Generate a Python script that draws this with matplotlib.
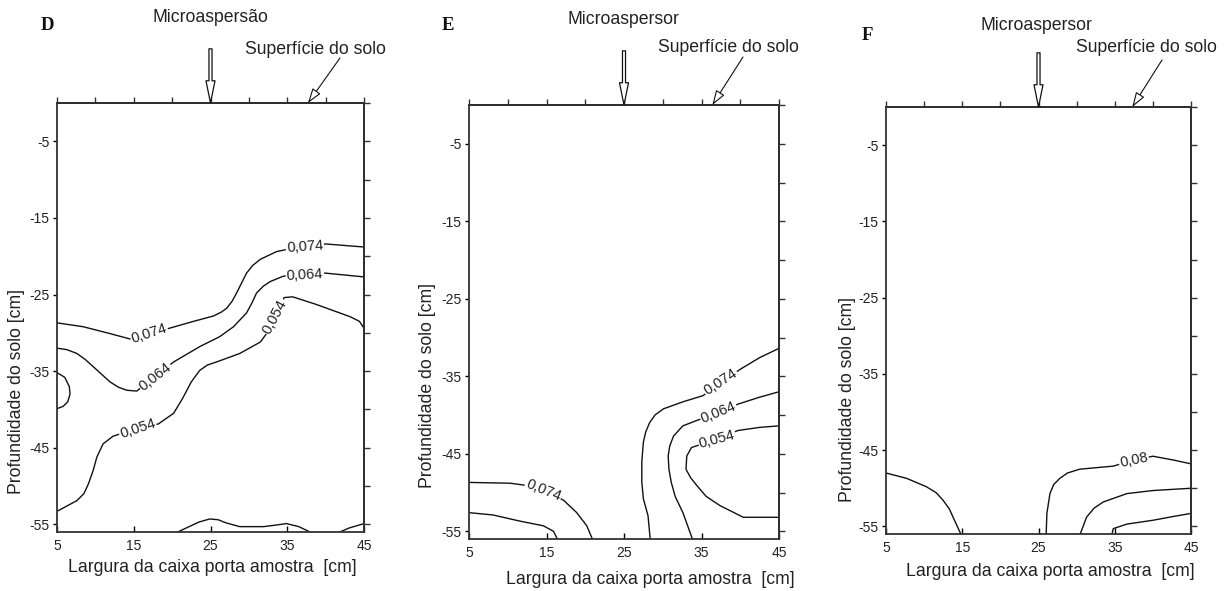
import matplotlib.pyplot as plt

plt.rcParams['font.family'] = ['Liberation Sans', 'DejaVu Sans']
plt.rcParams['axes.unicode_minus'] = False

W, H = 1230, 591

# eixos
x_ticks = [5, 15, 25, 35, 45]
y_ticks = [-5, -15, -25, -35, -45, -55]
top_ticks = [5, 10, 15, 20, 25, 30, 35, 40, 45]
right_ticks = [0, -5, -10, -15, -20, -25, -30, -35, -40, -45, -50, -55]
xlabel = 'Largura da caixa porta amostra  [cm]'
ylabel = 'Profundidade do solo [cm]'

# painel D - isolinhas
d_074_x = [5.0, 8.4, 11.9, 14.5, 17.0, 19.3, 22.8, 25.4, 26.4, 27.1, 27.8, 28.4, 29.7, 30.5, 31.5, 33.6, 35.0, 37.5, 40.0, 45.0]
d_074_y = [-28.7, -29.2, -30.1, -30.8, -30.3, -29.5, -28.5, -27.8, -27.3, -26.8, -25.9, -24.8, -22.2, -21.2, -20.4, -19.4, -19.1, -18.8, -18.4, -18.8]
d_064_x = [5.0, 6.3, 7.6, 8.7, 9.7, 11.9, 13.0, 14.1, 15.4, 17.8, 20.2, 23.6, 26.2, 28.0, 29.7, 30.4, 31.0, 31.9, 32.8, 34.5, 37.3, 39.9, 45.0]
d_064_y = [-32.0, -32.2, -32.7, -33.5, -34.4, -36.4, -37.1, -37.5, -37.6, -35.7, -33.8, -31.8, -30.5, -29.2, -27.4, -26.1, -24.8, -23.9, -23.3, -22.6, -22.4, -22.2, -22.7]
d_054_x = [5.0, 7.6, 8.5, 9.1, 9.7, 10.2, 11.0, 12.3, 13.2, 15.5, 18.2, 20.2, 21.4, 22.5, 23.6, 24.6, 25.8, 28.8, 31.5, 32.3, 33.4, 34.6, 35.7, 38.8, 43.2, 44.4, 45.0]
d_054_y = [-53.3, -51.9, -51.0, -49.7, -48.0, -46.2, -44.5, -43.5, -43.2, -42.5, -41.9, -40.5, -38.5, -36.4, -34.9, -34.2, -33.8, -32.7, -31.2, -30.1, -27.9, -25.4, -25.3, -26.3, -27.9, -28.5, -29.4]
d_bolso_x = [5.0, 6.0, 6.6, 6.7, 6.4, 5.8, 5.0]
d_bolso_y = [-35.2, -35.8, -37.0, -38.0, -39.0, -39.6, -39.9]
d_fundo1_x = [20.3, 22.0, 23.5, 24.9, 26.0, 27.0, 28.8, 31.9, 33.5, 34.9, 36.5, 38.4]
d_fundo1_y = [-56.2, -55.4, -54.7, -54.3, -54.4, -54.8, -55.3, -55.3, -55.1, -54.9, -55.3, -56.2]
d_fundo2_x = [41.4, 43.0, 45.0]
d_fundo2_y = [-56.2, -55.5, -54.9]
d_rot_x = [17.0, 37.3, 17.8, 37.3, 15.5, 33.4]
d_rot_y = [-30.1, -18.7, -35.7, -22.4, -42.5, -27.9]
d_rot_txt = ['0,074', '0,074', '0,064', '0,064', '0,054', '0,054']
d_rot_ang = [18, 4, 38, 3, 18, 62]

# painel E
e_074a_x = [5.0, 10.3, 12.5, 14.6, 17.2, 18.9, 20.2, 21.0]
e_074a_y = [-48.7, -48.8, -49.1, -49.7, -51.0, -52.6, -54.3, -56.2]
e_064a_x = [5.0, 8.1, 11.6, 14.6, 15.9, 16.5]
e_064a_y = [-52.6, -52.9, -53.7, -54.3, -55.0, -56.2]
e_074b_x = [28.4, 28.1, 27.5, 27.3, 27.3, 27.5, 27.8, 28.3, 29.0, 30.1, 32.6, 35.2, 37.5, 40.0, 42.5, 45.0]
e_074b_y = [-56.2, -53.0, -50.8, -48.7, -46.0, -43.5, -42.2, -41.0, -40.0, -39.2, -38.3, -37.5, -35.8, -34.1, -32.6, -31.4]
e_064b_x = [33.9, 32.6, 31.6, 31.1, 30.8, 30.7, 30.9, 31.4, 32.6, 34.4, 37.2, 39.7, 42.5, 45.0]
e_064b_y = [-56.2, -52.6, -50.5, -48.7, -47.0, -45.3, -44.0, -42.7, -41.4, -40.7, -39.7, -38.6, -37.7, -37.0]
e_054_x = [45.0, 40.4, 37.4, 35.6, 34.4, 33.6, 33.0, 33.1, 33.7, 37.0, 39.7, 42.5, 45.0]
e_054_y = [-53.2, -53.2, -51.7, -50.5, -49.1, -48.1, -47.0, -45.3, -44.2, -43.1, -42.0, -41.6, -41.4]
e_rot_x = [14.6, 37.5, 37.2, 37.0]
e_rot_y = [-49.7, -35.8, -39.7, -43.1]
e_rot_txt = ['0,074', '0,074', '0,064', '0,054']
e_rot_ang = [-22, 33, 22, 15]

# painel F
f_a_x = [5.0, 7.7, 10.3, 11.6, 12.5, 13.3, 13.8, 14.9]
f_a_y = [-48.0, -48.7, -49.8, -50.6, -51.6, -52.7, -53.8, -56.2]
f_08_x = [26.0, 26.1, 26.5, 27.0, 27.8, 28.8, 30.4, 34.8, 37.5, 40.0, 42.7, 45.0]
f_08_y = [-56.2, -53.3, -50.7, -49.5, -48.7, -48.0, -47.5, -47.1, -46.3, -45.8, -46.3, -46.8]
f_b_x = [30.4, 31.3, 32.3, 33.5, 36.6, 40.0, 45.0]
f_b_y = [-56.2, -53.8, -52.6, -51.8, -50.7, -50.3, -50.0]
f_c_x = [34.6, 34.8, 36.6, 40.0, 42.7, 45.0]
f_c_y = [-56.2, -55.3, -54.7, -54.2, -53.7, -53.3]
f_rot_x = [37.5]
f_rot_y = [-46.3]
f_rot_txt = ['0,08']
f_rot_ang = [12]

paineis = [
    dict(box=(57, 103, 364, 532), letra='D', letra_pos=(47, 26), micro='Microaspersão',
         micro_pos=(210, 18), sup_pos=(315, 50), sup_tail=(340, 58), sup_x=37.7,
         ylab=(17, 391), xlab=(212, 568),
         linhas=[(d_074_x, d_074_y), (d_064_x, d_064_y), (d_054_x, d_054_y),
                 (d_bolso_x, d_bolso_y), (d_fundo1_x, d_fundo1_y), (d_fundo2_x, d_fundo2_y)],
         rot=(d_rot_x, d_rot_y, d_rot_txt, d_rot_ang)),
    dict(box=(469, 105, 779, 539), letra='E', letra_pos=(448, 26), micro='Microaspersor',
         micro_pos=(623, 20), sup_pos=(728, 47), sup_tail=(743, 57), sup_x=36.4,
         ylab=(428, 386), xlab=(650, 580),
         linhas=[(e_074a_x, e_074a_y), (e_064a_x, e_064a_y), (e_074b_x, e_074b_y),
                 (e_064b_x, e_064b_y), (e_054_x, e_054_y)],
         rot=(e_rot_x, e_rot_y, e_rot_txt, e_rot_ang)),
    dict(box=(886, 107, 1191, 534), letra='F', letra_pos=(867, 36), micro='Microaspersor',
         micro_pos=(1036, 25), sup_pos=(1146, 48), sup_tail=(1162, 60), sup_x=37.3,
         ylab=(848, 400), xlab=(1050, 572),
         linhas=[(f_a_x, f_a_y), (f_08_x, f_08_y), (f_b_x, f_b_y), (f_c_x, f_c_y)],
         rot=(f_rot_x, f_rot_y, f_rot_txt, f_rot_ang)),
]

fig = plt.figure(figsize=(W / 100, H / 100), dpi=100)
tc = '#222222'


def fx(px):
    return px / W


def fy(py):
    return 1 - py / H


for p in paineis:
    l, t, r, b = p['box']
    ax = fig.add_axes([fx(l), fy(b), (r - l) / W, (b - t) / H])
    ax.set_xlim(5, 45)
    ax.set_ylim(-56, 0)

    for xs, ys in p['linhas']:
        ax.plot(xs, ys, color='#111111', lw=1.0, solid_joinstyle='round')

    for x, y, s, a in zip(*p['rot']):
        ax.text(x, y, s, rotation=a, rotation_mode='anchor', ha='center', va='center',
                fontsize=10.5, color=tc, bbox=dict(fc='white', ec='none', pad=0.6))

    ax.set_xticks(x_ticks)
    ax.set_yticks(y_ticks)
    ax.tick_params(axis='x', direction='in', length=4, width=1, pad=5, labelsize=10,
                   labelcolor=tc, top=False)
    ax.tick_params(axis='y', direction='out', length=3, width=1, pad=2.5, labelsize=10,
                   labelcolor=tc, right=False)
    for sp in ax.spines.values():
        sp.set_linewidth(1.3)
        sp.set_color('#333333')

    top = ax.secondary_xaxis('top')
    top.set_xticks(top_ticks)
    top.tick_params(direction='out', length=4, width=1, labeltop=False, color='#333333')
    top.spines['top'].set_linewidth(1.3)
    right = ax.secondary_yaxis('right')
    right.set_yticks(right_ticks)
    right.tick_params(direction='out', length=4, width=1, labelright=False, color='#333333')
    right.spines['right'].set_linewidth(1.3)

    # rotulos dos eixos
    w, h = r - l, b - t
    ax.set_xlabel(xlabel, fontsize=12.7, color=tc, va='center')
    ax.xaxis.set_label_coords((p['xlab'][0] - l) / w, (b - p['xlab'][1]) / h)
    ax.set_ylabel(ylabel, fontsize=12.7, color=tc, va='center')
    ax.yaxis.set_label_coords((p['ylab'][0] - l) / w, (b - p['ylab'][1]) / h)

    fig.text(fx(p['letra_pos'][0]), fy(p['letra_pos'][1]), p['letra'], ha='center', va='center',
             fontsize=13.5, fontweight='bold', family='Liberation Serif', color='#111111')
    fig.text(fx(p['micro_pos'][0]), fy(p['micro_pos'][1]), p['micro'], ha='center', va='center',
             fontsize=12.7, color=tc)
    fig.text(fx(p['sup_pos'][0]), fy(p['sup_pos'][1]), 'Superfície do solo', ha='center',
             va='center', fontsize=12.7, color=tc)

    # seta do microaspersor
    ax.annotate('', xy=(25, 0), xytext=(0, 39), textcoords='offset points',
                annotation_clip=False,
                arrowprops=dict(arrowstyle='simple,head_length=1.6,head_width=0.65,tail_width=0.22',
                                mutation_scale=10, fc='white', ec='#111111', lw=0.9,
                                shrinkA=0, shrinkB=0))
    # seta da superficie
    tx, ty = p['sup_tail']
    ax.annotate('', xy=(p['sup_x'], 0), xytext=(fx(tx), fy(ty)), textcoords='figure fraction',
                annotation_clip=False,
                arrowprops=dict(arrowstyle='-|>,head_length=0.9,head_width=0.3',
                                fc='white', ec='#111111', lw=0.8, shrinkA=0, shrinkB=0))

fig.savefig('out.png', dpi=100)
